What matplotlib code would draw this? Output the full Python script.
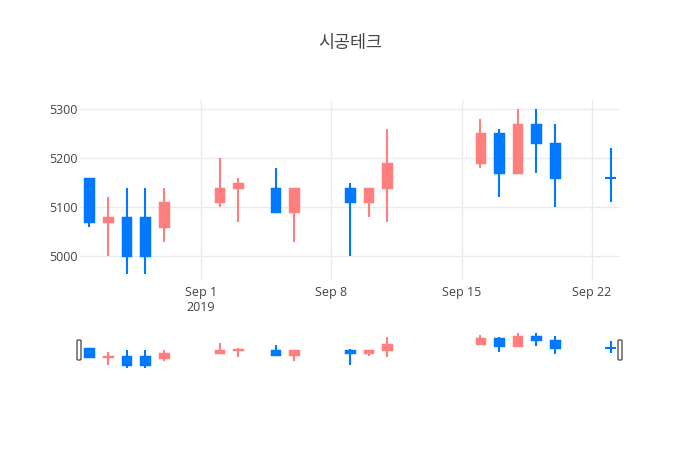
import pandas as pd
import matplotlib
matplotlib.use("Agg")
import matplotlib.pyplot as plt
import matplotlib.dates as mdates
from matplotlib.patches import FancyBboxPatch

plt.rcParams['font.family'] = ['Open Sans', 'Noto Sans CJK KR', 'DejaVu Sans']

title = "시공테크"
dates = ["2019-08-26", "2019-08-27", "2019-08-28", "2019-08-29", "2019-08-30",
         "2019-09-02", "2019-09-03", "2019-09-05", "2019-09-06",
         "2019-09-09", "2019-09-10", "2019-09-11",
         "2019-09-16", "2019-09-17", "2019-09-18", "2019-09-19", "2019-09-20",
         "2019-09-23"]
opens = [5160, 5070, 5080, 5080, 5060, 5110, 5140, 5140, 5090,
         5140, 5110, 5140, 5190, 5250, 5170, 5270, 5230, 5160]
highs = [5160, 5120, 5140, 5140, 5140, 5200, 5160, 5180, 5140,
         5150, 5140, 5260, 5280, 5260, 5300, 5300, 5270, 5220]
lows = [5060, 5000, 4965, 4965, 5030, 5100, 5070, 5090, 5030,
        5000, 5080, 5070, 5180, 5120, 5170, 5170, 5100, 5110]
closes = [5070, 5080, 5000, 5000, 5110, 5140, 5150, 5090, 5140,
          5110, 5140, 5190, 5250, 5170, 5270, 5230, 5160, 5160]

tick_dates = ["2019-09-01", "2019-09-08", "2019-09-15", "2019-09-22"]
tick_labels = ["Sep 1\n2019", "Sep 8", "Sep 15", "Sep 22"]
y_ticks = [5000, 5100, 5200, 5300]

UP = '#FF7F7F'
DOWN = '#0078FF'
TEXT = '#444444'
GRID = '#EBEBEB'

x = mdates.date2num(pd.to_datetime(dates))
xmin = mdates.date2num(pd.Timestamp("2019-08-25 12:00"))
xmax = mdates.date2num(pd.Timestamp("2019-09-23 12:00"))


def draw_candles(ax, lw):
    for xi, o, h, l, c in zip(x, opens, highs, lows, closes):
        color = UP if c > o else DOWN
        ax.vlines(xi, l, h, color=color, lw=lw, zorder=2)
        if c == o:
            ax.hlines(o, xi - 0.28, xi + 0.28, color=color, lw=lw, zorder=3)
        else:
            ax.bar(xi, abs(c - o), bottom=min(o, c), width=0.52, color=color,
                   edgecolor=color, linewidth=lw * 0.7, zorder=3)


fig = plt.figure(figsize=(7, 4.5), dpi=100)
W, H = 700, 450

# main chart
ax = fig.add_axes([80 / W, 170 / H, 540 / W, 180 / H])
draw_candles(ax, 1.5)
ax.set_xlim(xmin, xmax)
ax.set_ylim(4952, 5318)
ax.set_xticks(mdates.date2num(pd.to_datetime(tick_dates)))
ax.set_xticklabels(tick_labels)
ax.set_yticks(y_ticks)
ax.grid(True, color=GRID, lw=1)
ax.set_axisbelow(True)
for s in ax.spines.values():
    s.set_visible(False)
ax.tick_params(length=0, colors=TEXT, labelsize=9)
ax.tick_params(axis='x', pad=4)
ax.tick_params(axis='y', pad=2)
for lab in ax.get_xticklabels():
    lab.set_linespacing(1.25)

fig.text(350 / W, 1 - 43 / H, title, ha='center', va='center',
         fontsize=12.5, color=TEXT, family=['Noto Sans CJK KR', 'DejaVu Sans'])

# range slider
rs = fig.add_axes([80 / W, 80 / H, 540 / W, 40 / H])
draw_candles(rs, 1.5)
rs.set_xlim(xmin, xmax)
rs.set_ylim(4949, 5325)
rs.set_xticks([])
rs.set_yticks([])
for s in rs.spines.values():
    s.set_visible(False)

for px in (79, 620):
    fig.patches.append(FancyBboxPatch(((px - 2) / W, 1 - 360 / H), 4 / W, 20 / H,
                                      boxstyle="round,pad=0,rounding_size=0.002",
                                      transform=fig.transFigure, facecolor='white',
                                      edgecolor='#555555', lw=1, zorder=5))

fig.savefig("out.png", dpi=100)
